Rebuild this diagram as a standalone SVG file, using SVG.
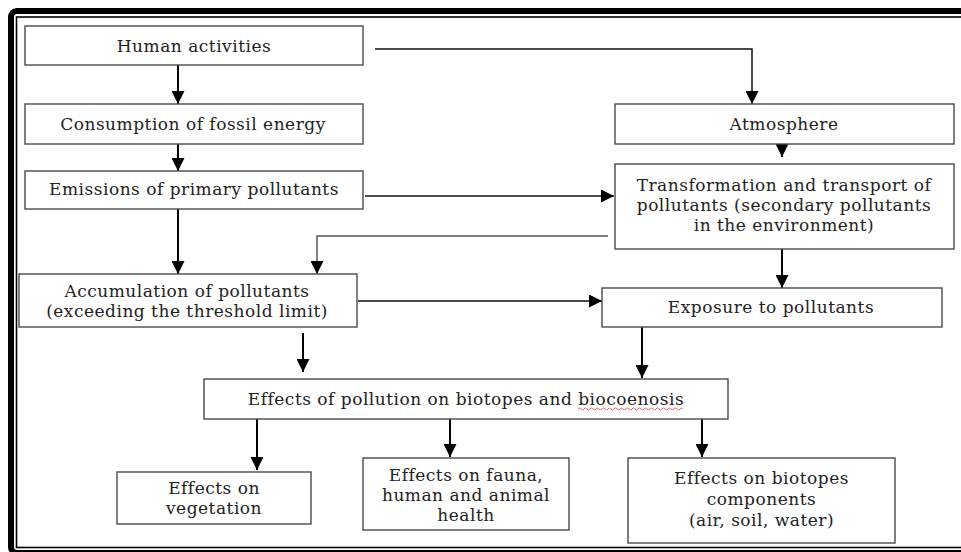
<svg xmlns="http://www.w3.org/2000/svg" width="961" height="552" viewBox="0 0 961 552">
<style>
  .box { fill: #ffffff; stroke: #4a4a4a; stroke-width: 1.4; }
  .t { font-family: "DejaVu Serif", "Liberation Serif", serif; font-size: 17px; letter-spacing: 0.5px; fill: #222222; text-anchor: middle; dominant-baseline: central; }
  .c { fill: none; stroke: #000000; stroke-width: 2; }
  .c1 { fill: none; stroke: #111111; stroke-width: 1.5; }
  .c2 { fill: none; stroke: #555555; stroke-width: 1.5; }
</style>
<defs>
  <marker id="ah" markerUnits="userSpaceOnUse" markerWidth="13" markerHeight="13" refX="13" refY="6.5" orient="auto">
    <path d="M0,0 L13,6.5 L0,13 z" fill="#000000"/>
  </marker>
</defs>
<rect x="0" y="0" width="961" height="552" fill="#ffffff"/>
<g id="frame">
  <rect x="11" y="11" width="965" height="542" rx="6" fill="none" stroke="#000000" stroke-width="6"/>
  <rect x="16.5" y="17" width="960" height="530.5" fill="none" stroke="#000000" stroke-width="1.6"/>
</g>
<g id="connectors">
  <path class="c" d="M178 65 V104" marker-end="url(#ah)"/>
  <path class="c" d="M178 144 V171" marker-end="url(#ah)"/>
  <path class="c1" d="M375 49 H752 V104" marker-end="url(#ah)"/>
  <path class="c" d="M782 144 V157" marker-end="url(#ah)"/>
  <path class="c1" d="M365 196 H614" marker-end="url(#ah)"/>
  <path class="c2" d="M608 236 H317 V274" marker-end="url(#ah)"/>
  <path class="c" d="M178 209 V274" marker-end="url(#ah)"/>
  <path class="c1" d="M358 301 H602" marker-end="url(#ah)"/>
  <path class="c" d="M782 249 V288" marker-end="url(#ah)"/>
  <path class="c" d="M303 333 V372" marker-end="url(#ah)"/>
  <path class="c" d="M642 327 V378" marker-end="url(#ah)"/>
  <path class="c" d="M257 419 V470" marker-end="url(#ah)"/>
  <path class="c" d="M450 419 V457" marker-end="url(#ah)"/>
  <path class="c" d="M702 419 V457" marker-end="url(#ah)"/>
</g>
<g id="human">
  <rect class="box" x="25" y="26" width="338" height="39"/>
  <text class="t" x="194" y="45.5">Human activities</text>
</g>
<g id="consumption">
  <rect class="box" x="25" y="104" width="338" height="40"/>
  <text class="t" x="193" y="124">Consumption of fossil energy</text>
</g>
<g id="emissions">
  <rect class="box" x="25" y="171" width="338" height="38"/>
  <text class="t" x="194" y="189">Emissions of primary pollutants</text>
</g>
<g id="atmosphere">
  <rect class="box" x="615" y="104" width="339" height="40"/>
  <text class="t" x="784" y="124">Atmosphere</text>
</g>
<g id="transformation">
  <rect class="box" x="615" y="164" width="339" height="85"/>
  <text class="t" x="784" y="185">Transformation and transport of</text>
  <text class="t" x="784" y="205">pollutants (secondary pollutants</text>
  <text class="t" x="784" y="225">in the environment)</text>
</g>
<g id="accumulation">
  <rect class="box" x="19" y="274" width="338" height="53"/>
  <text class="t" x="187" y="291">Accumulation of pollutants</text>
  <text class="t" x="187" y="311">(exceeding the threshold limit)</text>
</g>
<g id="exposure">
  <rect class="box" x="602" y="288" width="340" height="39"/>
  <text class="t" x="771" y="307">Exposure to pollutants</text>
</g>
<g id="effects">
  <rect class="box" x="204" y="379" width="524" height="40"/>
  <text class="t" x="466" y="399">Effects of pollution on biotopes and biocoenosis</text>
  <path d="M578 409 q1.5 -2 3 0 t3 0 t3 0 t3 0 t3 0 t3 0 t3 0 t3 0 t3 0 t3 0 t3 0 t3 0 t3 0 t3 0 t3 0 t3 0 t3 0 t3 0 t3 0 t3 0 t3 0 t3 0 t3 0 t3 0 t3 0 t3 0 t3 0 t3 0 t3 0 t3 0 t3 0 t3 0 t3 0 t3 0 t3 0" fill="none" stroke="#d04040" stroke-width="0.8"/>
</g>
<g id="vegetation">
  <rect class="box" x="117" y="472" width="194" height="52"/>
  <text class="t" x="214" y="488">Effects on</text>
  <text class="t" x="214" y="508">vegetation</text>
</g>
<g id="fauna">
  <rect class="box" x="363" y="458" width="206" height="72"/>
  <text class="t" x="466" y="475">Effects on fauna,</text>
  <text class="t" x="466" y="495">human and animal</text>
  <text class="t" x="466" y="515">health</text>
</g>
<g id="biotopes">
  <rect class="box" x="628" y="458" width="267" height="85"/>
  <text class="t" x="761.5" y="478">Effects on biotopes</text>
  <text class="t" x="761.5" y="499">components</text>
  <text class="t" x="761.5" y="520">(air, soil, water)</text>
</g>
</svg>
